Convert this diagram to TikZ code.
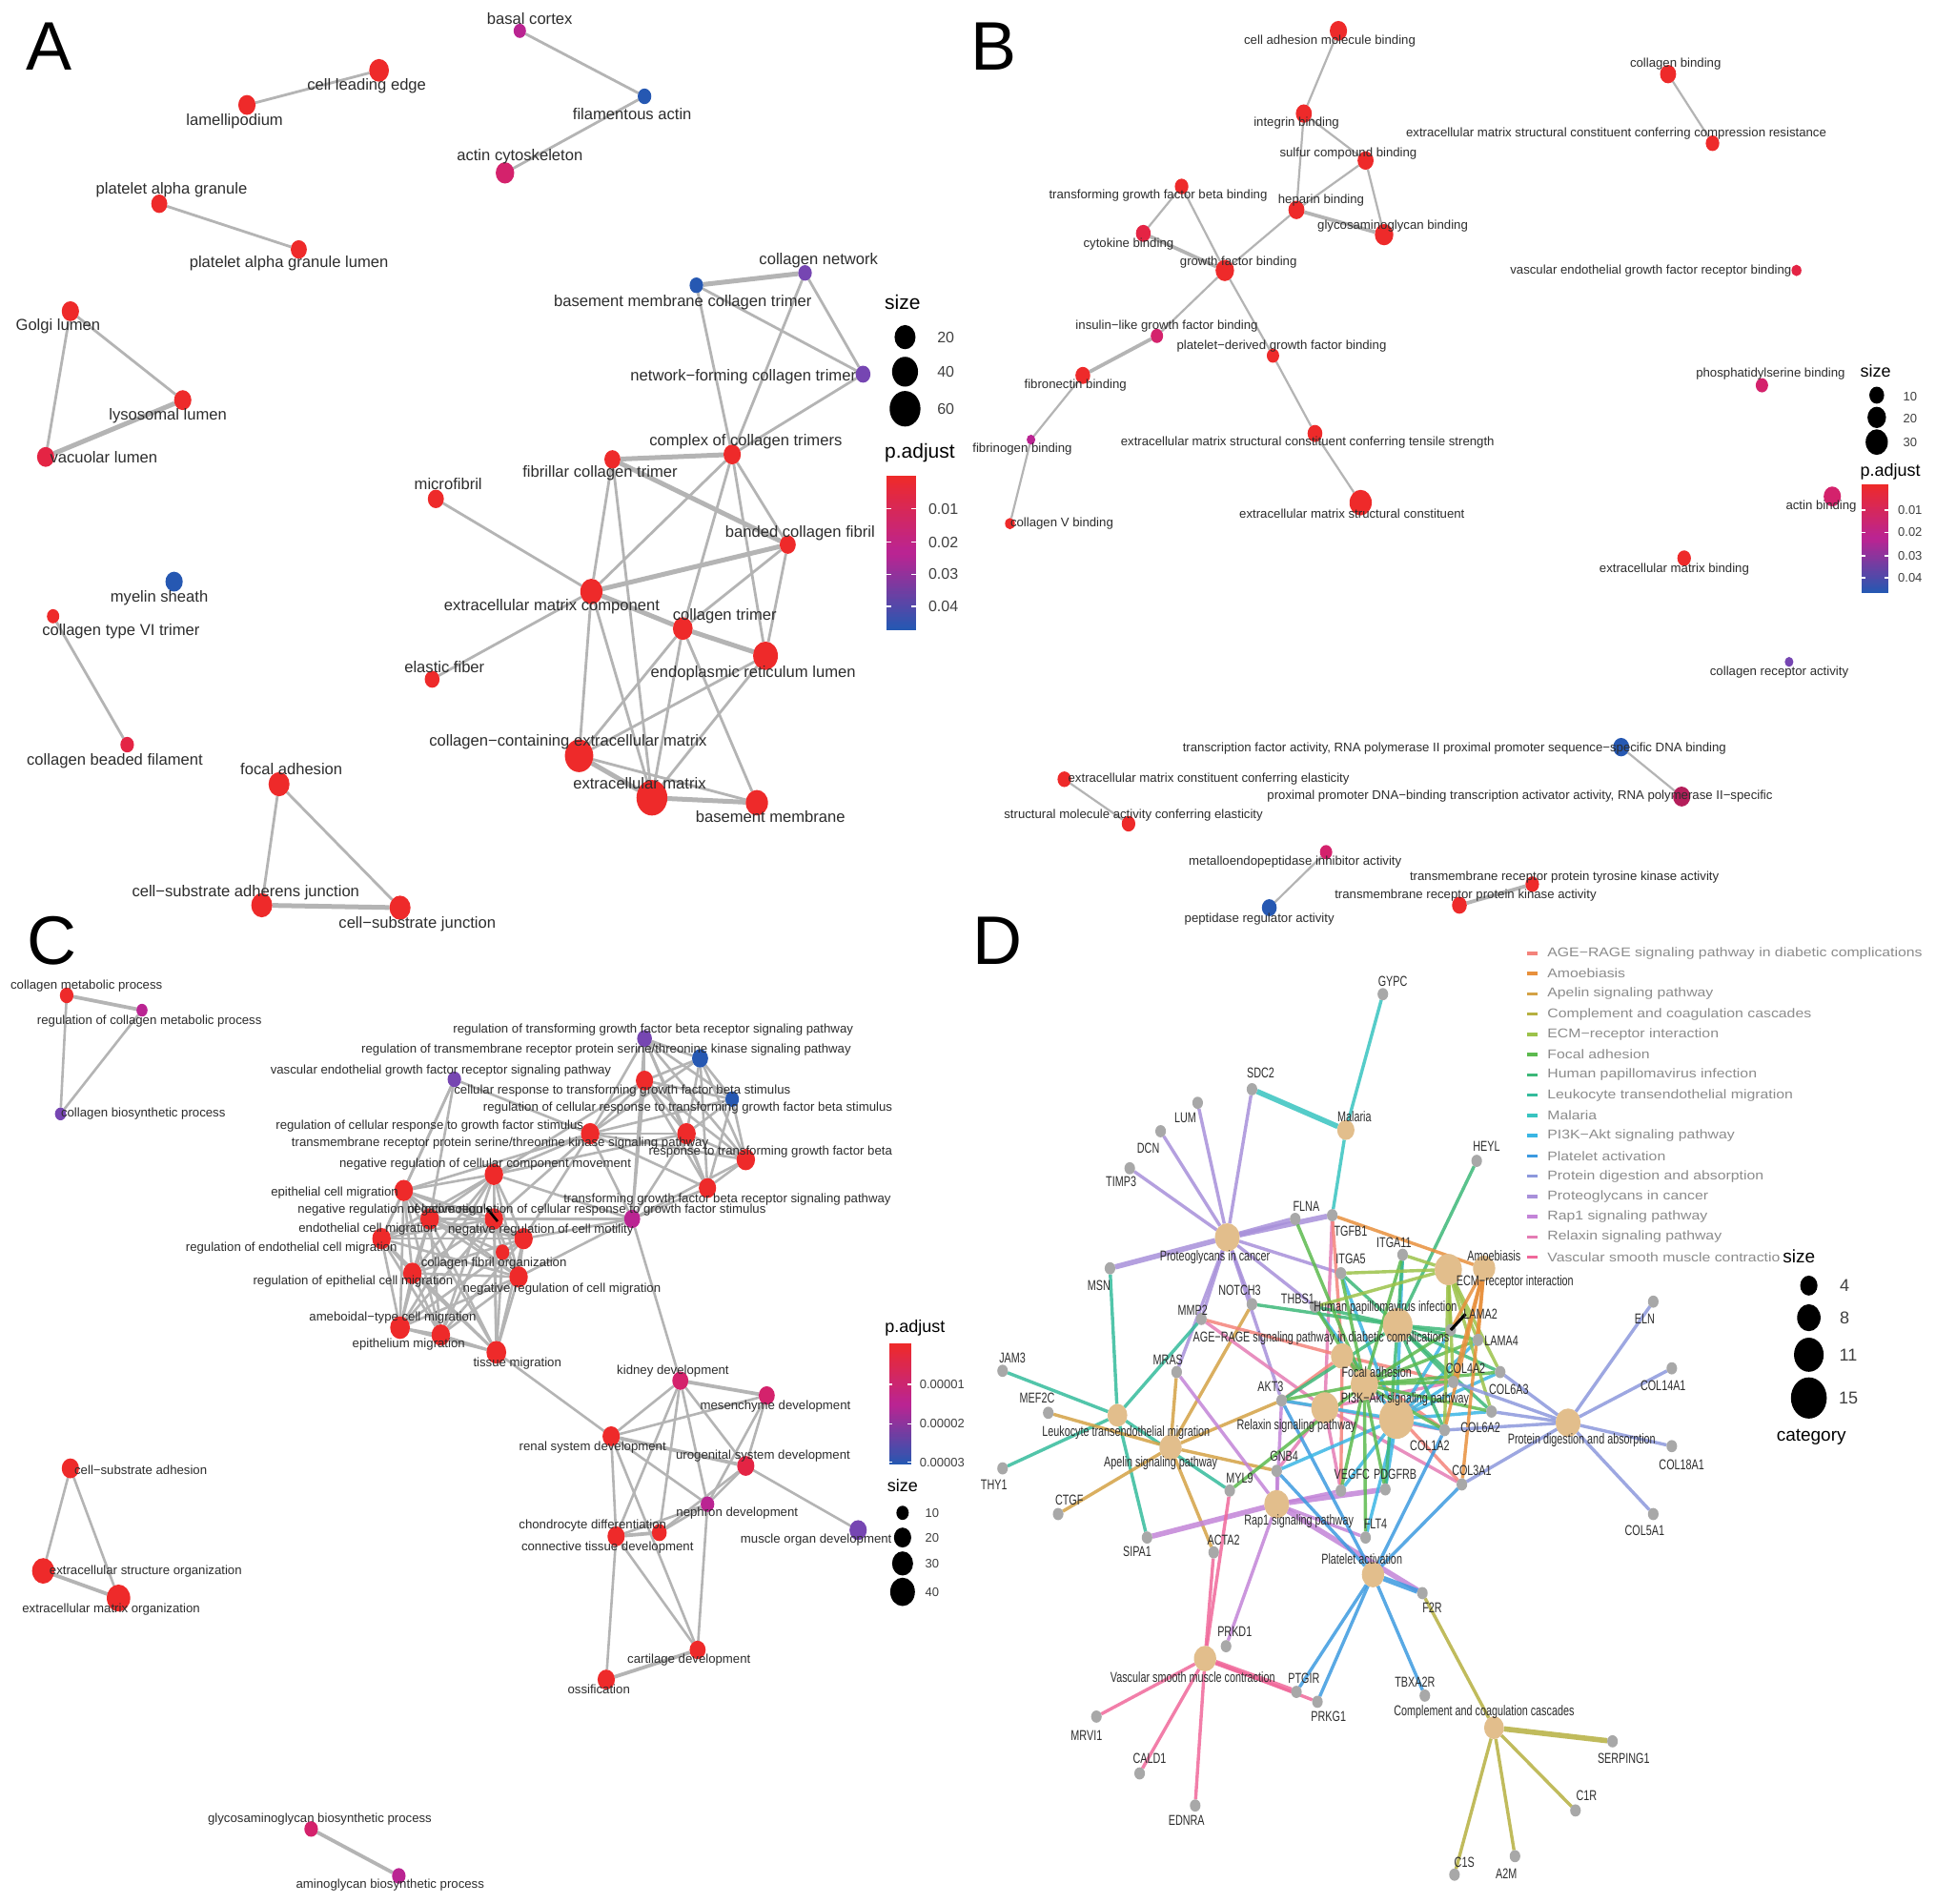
\documentclass[tikz,border=0pt]{standalone}
\usepackage{fontspec}
\setmainfont{Liberation Sans}
\usepackage{graphicx}
\usetikzlibrary{shapes.geometric}
\pgfdeclarelayer{back}
\pgfdeclarelayer{bg}
\pgfdeclarelayer{fg}
\pgfsetlayers{back,bg,main,fg}
\definecolor{cR}{RGB}{238,42,42}
\definecolor{cR2}{RGB}{228,36,68}
\definecolor{cM1}{RGB}{212,34,108}
\definecolor{cM}{RGB}{186,36,146}
\definecolor{cM2}{RGB}{180,30,90}
\definecolor{cP}{RGB}{118,70,178}
\definecolor{cB}{RGB}{38,88,178}
\definecolor{egray}{RGB}{180,180,180}
\definecolor{txt}{RGB}{45,45,45}
\definecolor{ctan}{RGB}{226,190,140}
\definecolor{ggray}{RGB}{168,168,168}
\definecolor{legtxt}{RGB}{140,140,140}
\definecolor{k1}{HTML}{F4837B}
\definecolor{k2}{HTML}{E8903C}
\definecolor{k3}{HTML}{D4A245}
\definecolor{k4}{HTML}{B6B040}
\definecolor{k5}{HTML}{9CC24A}
\definecolor{k6}{HTML}{5CBA4E}
\definecolor{k7}{HTML}{3CB878}
\definecolor{k8}{HTML}{34BC9C}
\definecolor{k9}{HTML}{38C4C0}
\definecolor{k10}{HTML}{3AB6E4}
\definecolor{k11}{HTML}{3C9AE0}
\definecolor{k12}{HTML}{8C98DC}
\definecolor{k13}{HTML}{A890DA}
\definecolor{k14}{HTML}{C384D8}
\definecolor{k15}{HTML}{E47CB4}
\definecolor{k16}{HTML}{F0689A}
\tikzset{
 gnode/.style={ellipse,inner sep=0pt,outer sep=0pt,draw=none},
 ea/.style={draw=egray,line width=1.4pt},
 eat/.style={draw=egray,line width=2.5pt},
 eb/.style={draw=egray,line width=1.1pt},
 ebt/.style={draw=egray,line width=1.9pt},
 ec/.style={draw=egray,line width=1.3pt},
 de/.style={line width=1.7pt,opacity=0.85},
 det/.style={line width=2.8pt,opacity=0.85},
 labA/.style={font=\fontsize{8.3}{10}\selectfont,text=txt,inner sep=0pt},
 labB/.style={font=\fontsize{6.6}{8}\selectfont,text=txt,inner sep=0pt},
 labD/.style={font=\fontsize{7.5}{9}\selectfont,text=txt,inner sep=0pt},
 letter/.style={font=\fontsize{36}{40}\selectfont,text=black,inner sep=0pt},
 legtitle/.style={font=\fontsize{10.5}{12}\selectfont,text=black,inner sep=0pt},
 legnum/.style={font=\fontsize{8}{10}\selectfont,text=black!75,inner sep=0pt},
 legtitleB/.style={font=\fontsize{9}{11}\selectfont,text=black,inner sep=0pt},
 legnumB/.style={font=\fontsize{6.5}{8}\selectfont,text=black!75,inner sep=0pt},
 legD/.style={font=\fontsize{6.7}{8}\selectfont,text=legtxt,inner sep=0pt,anchor=west},
}
\newcommand\nd[5]{\node[gnode,fill=#5,minimum width={#4*1.2954pt},minimum height={#4*1.49pt}] (#1) at (#2,#3) {};}
\newcommand\la[4]{\begin{pgfonlayer}{fg}\node[labA] (l#1) at (#2,#3) {#4};\end{pgfonlayer}}
\newcommand\lb[4]{\begin{pgfonlayer}{fg}\node[labB] (l#1) at (#2,#3) {#4};\end{pgfonlayer}}
\newcommand\ld[4]{\begin{pgfonlayer}{fg}\node[labD] (l#1) at (#2,#3) {\scalebox{0.72}[1]{#4}};\end{pgfonlayer}}
\newcommand\gene[5]{\nd{#1}{#2}{#3}{4.3}{ggray}\ld{#1}{#4}{#5}{#1}}
\newcommand\cbar[4]{%
 \foreach \i in {0,...,29}{%
  \pgfmathsetmacro\ya{#2+(#4-#2)*\i/60}%
  \pgfmathsetmacro\yb{#2+(#4-#2)*(\i+1.3)/60}%
  \pgfmathtruncatemacro\pp{\i*100/29}%
  \fill[cM!\pp!cR] (#1,\ya) rectangle (#3,\yb);}%
 \foreach \i in {0,...,29}{%
  \pgfmathsetmacro\ya{#2+(#4-#2)*(30+\i)/60}%
  \pgfmathsetmacro\yb{#2+(#4-#2)*min(60,30+\i+1.3)/60}%
  \pgfmathtruncatemacro\pp{\i*100/29}%
  \fill[cB!\pp!cM] (#1,\ya) rectangle (#3,\yb);}%
}
\begin{document}
\begin{tikzpicture}[x=0.6477pt,y=-0.6477pt]
\useasboundingbox (0,0) rectangle (1568,1541);
\begin{pgfonlayer}{back}
\fill[white] (0,0) rectangle (1568,1541);
\end{pgfonlayer}
% ---------------- letters
\node[letter] (LA) at (40,38) {A};
\node[letter] (LB) at (805,38) {B};
\node[letter] (LC) at (42,762) {C};
\node[letter] (LD) at (808,762) {D};
% ================= PANEL A
\nd{bc}{421}{25}{5}{cM}
\nd{fa}{522}{78}{5.5}{cB}
\nd{ac}{409}{140}{7.5}{cM1}
\nd{cle}{307}{57}{8}{cR}
\nd{lam}{200}{85}{7}{cR}
\nd{pag}{129}{165}{6.5}{cR}
\nd{pagl}{242}{202}{6.5}{cR}
\nd{gl}{57}{252}{7}{cR}
\nd{ll}{148}{324}{7}{cR}
\nd{vl}{37}{370}{7}{cR2}
\nd{ms}{141}{471}{7}{cB}
\nd{cvi}{43}{499}{5}{cR}
\nd{cbf}{103}{603}{5.5}{cR2}
\nd{fad}{226}{635}{8.5}{cR}
\nd{csaj}{212}{733}{8.5}{cR}
\nd{csj}{324}{735}{8.5}{cR}
\nd{cn}{652}{221}{5.5}{cP}
\nd{bmct}{564}{231}{5.5}{cB}
\nd{nfct}{699}{303}{6}{cP}
\nd{cct}{593}{368}{7}{cR}
\nd{fct}{496}{372}{6.5}{cR}
\nd{mf}{353}{404}{6.5}{cR}
\nd{bcf}{638}{441}{6.5}{cR}
\nd{ecmc}{479}{479}{9}{cR}
\nd{ctr}{553}{509}{8}{cR}
\nd{erl}{620}{531}{10}{cR}
\nd{ef}{350}{550}{6}{cR}
\nd{ccecm}{469}{612}{11.5}{cR}
\nd{exm}{528}{646}{12.5}{cR}
\nd{bm}{613}{650}{9}{cR}
\la{bc}{429}{15}{basal cortex}
\la{fa}{512}{92}{filamentous actin}
\la{ac}{421}{127}{actin cytoskeleton}
\la{cle}{297}{70}{cell leading edge}
\la{lam}{190}{98}{lamellipodium}
\la{pag}{139}{154}{platelet alpha granule}
\la{pagl}{234}{213}{platelet alpha granule lumen}
\la{gl}{47}{264}{Golgi lumen}
\la{ll}{136}{337}{lysosomal lumen}
\la{vl}{84}{370}{vacuolar lumen}
\la{ms}{129}{484}{myelin sheath}
\la{cvi}{98}{511}{collagen type VI trimer}
\la{cbf}{93}{616}{collagen beaded filament}
\la{fad}{236}{623}{focal adhesion}
\la{csaj}{199}{723}{cell−substrate adherens junction}
\la{csj}{338}{748}{cell−substrate junction}
\la{cn}{663}{211}{collagen network}
\la{bmct}{553}{245}{basement membrane collagen trimer}
\la{nfct}{602}{305}{network−forming collagen trimer}
\la{cct}{604}{358}{complex of collagen trimers}
\la{fct}{486}{383}{fibrillar collagen trimer}
\la{mf}{363}{392}{microfibril}
\la{bcf}{648}{432}{banded collagen fibril}
\la{ecmc}{447}{491}{extracellular matrix component}
\la{ctr}{587}{499}{collagen trimer}
\la{erl}{610}{545}{endoplasmic reticulum lumen}
\la{ef}{360}{540}{elastic fiber}
\la{ccecm}{460}{601}{collagen−containing extracellular matrix}
\la{exm}{518}{634}{extracellular matrix}
\la{bm}{624}{661}{basement membrane}
\begin{pgfonlayer}{bg}
\foreach \a/\b in {bc/fa,fa/ac,cle/lam,pag/pagl,gl/ll,gl/vl,cvi/cbf,fad/csaj,fad/csj,bmct/nfct,cn/nfct,bmct/cct,cn/cct,nfct/cct,cct/ecmc,cct/ctr,cct/bcf,cct/erl,fct/ecmc,fct/exm,mf/ecmc,ef/ecmc,ecmc/ccecm,ecmc/exm,bcf/ctr,bcf/erl,ctr/ccecm,ctr/exm,ctr/bm,erl/ccecm,erl/exm,ccecm/bm}
 \draw[ea] (\a) -- (\b);
\foreach \a/\b in {ll/vl,csaj/csj,bmct/cn,cct/fct,fct/bcf,ecmc/bcf,ecmc/ctr,ctr/erl,ccecm/exm,exm/bm}
 \draw[eat] (\a) -- (\b);
\end{pgfonlayer}
% legend A
\node[legtitle] (sA) at (731,245) {size};
\nd{sA1}{733}{273}{8.5}{black}
\nd{sA2}{733}{301}{10.5}{black}
\nd{sA3}{733}{331}{12.5}{black}
\node[legnum] (sA1t) at (766,273) {20};
\node[legnum] (sA2t) at (766,301) {40};
\node[legnum] (sA3t) at (766,331) {60};
\node[legtitle] (pA) at (745,367) {p.adjust};
\cbar{718}{385}{742}{510}
\foreach \y/\t in {412/0.01,439/0.02,465/0.03,491/0.04}{
 \draw[white,line width=0.8pt] (718,\y) -- (722,\y);
 \draw[white,line width=0.8pt] (738,\y) -- (742,\y);
 \node[legnum] at (764,\y) {\t};}
% ================= PANEL B
\nd{camb}{1084}{25}{7}{cR}
\nd{ib}{1056}{92}{6.5}{cR}
\nd{scb}{1106}{130}{6.5}{cR}
\nd{tgfbb}{957}{151}{5.5}{cR}
\nd{hb}{1050}{170}{6.5}{cR}
\nd{gagb}{1121}{190}{7.5}{cR}
\nd{cyb}{926}{189}{6}{cR2}
\nd{gfb}{992}{219}{7.5}{cR}
\nd{igfb}{937}{272}{5}{cM1}
\nd{pdgfb}{1031}{288}{5}{cR}
\nd{fnb}{877}{304}{6}{cR}
\nd{fgb}{835}{356}{3.5}{cM}
\nd{cvb}{818}{424}{4}{cR}
\nd{tens}{1065}{351}{6}{cR}
\nd{ecmsc}{1102}{407}{9}{cR}
\nd{colb}{1351}{60}{6.5}{cR}
\nd{comp}{1387}{116}{5.5}{cR}
\nd{vegfrb}{1455}{219}{4}{cR2}
\nd{psb}{1427}{312}{5}{cM1}
\nd{actb}{1484}{402}{7}{cM1}
\nd{ecmb}{1364}{452}{5.5}{cR}
\nd{cra}{1449}{536}{3.5}{cP}
\nd{tfa}{1313}{605}{6.5}{cB}
\nd{ppa}{1362}{645}{7}{cM2}
\nd{ecmel}{862}{631}{5.5}{cR}
\nd{smael}{914}{667}{5.5}{cR}
\nd{mia}{1074}{690}{5}{cM1}
\nd{pra}{1028}{735}{6}{cB}
\nd{trptk}{1241}{716}{5.5}{cR}
\nd{trpk}{1182}{733}{6}{cR}
\lb{camb}{1077}{33}{cell adhesion molecule binding}
\lb{ib}{1050}{100}{integrin binding}
\lb{scb}{1092}{124}{sulfur compound binding}
\lb{tgfbb}{938}{158}{transforming growth factor beta binding}
\lb{hb}{1070}{162}{heparin binding}
\lb{gagb}{1128}{183}{glycosaminoglycan binding}
\lb{cyb}{914}{198}{cytokine binding}
\lb{gfb}{1003}{212}{growth factor binding}
\lb{igfb}{945}{264}{insulin−like growth factor binding}
\lb{pdgfb}{1038}{280}{platelet−derived growth factor binding}
\lb{fnb}{871}{312}{fibronectin binding}
\lb{fgb}{828}{364}{fibrinogen binding}
\lb{cvb}{860}{424}{collagen V binding}
\lb{tens}{1059}{358}{extracellular matrix structural constituent conferring tensile strength}
\lb{ecmsc}{1095}{416}{extracellular matrix structural constituent}
\lb{colb}{1357}{52}{collagen binding}
\lb{comp}{1309}{108}{extracellular matrix structural constituent conferring compression resistance}
\lb{vegfrb}{1337}{219}{vascular endothelial growth factor receptor binding}
\lb{psb}{1434}{303}{phosphatidylserine binding}
\lb{actb}{1475}{410}{actin binding}
\lb{ecmb}{1356}{461}{extracellular matrix binding}
\lb{cra}{1441}{544}{collagen receptor activity}
\lb{tfa}{1178}{606}{transcription factor activity, RNA polymerase II proximal promoter sequence−specific DNA binding}
\lb{ppa}{1231}{645}{proximal promoter DNA−binding transcription activator activity, RNA polymerase II−specific}
\lb{ecmel}{979}{631}{extracellular matrix constituent conferring elasticity}
\lb{smael}{918}{660}{structural molecule activity conferring elasticity}
\lb{mia}{1049}{698}{metalloendopeptidase inhibitor activity}
\lb{pra}{1020}{744}{peptidase regulator activity}
\lb{trptk}{1267}{710}{transmembrane receptor protein tyrosine kinase activity}
\lb{trpk}{1187}{725}{transmembrane receptor protein kinase activity}
\begin{pgfonlayer}{bg}
\foreach \a/\b in {camb/ib,ib/scb,ib/hb,scb/hb,scb/gagb,hb/gfb,tgfbb/cyb,tgfbb/gfb,gfb/igfb,gfb/pdgfb,fnb/fgb,fgb/cvb,pdgfb/tens,tens/ecmsc,colb/comp,tfa/ppa,ecmel/smael,mia/pra}
 \draw[eb] (\a) -- (\b);
\foreach \a/\b in {hb/gagb,cyb/gfb,igfb/fnb,trptk/trpk}
 \draw[ebt] (\a) -- (\b);
\end{pgfonlayer}
% legend B
\node[legtitleB] (sB) at (1519,300) {size};
\nd{sB1}{1520}{320}{6}{black}
\nd{sB2}{1520}{338}{7.5}{black}
\nd{sB3}{1520}{358}{9}{black}
\node[legnumB] (sB1t) at (1547,321) {10};
\node[legnumB] (sB2t) at (1547,339) {20};
\node[legnumB] (sB3t) at (1547,358) {30};
\node[legtitleB] (pB) at (1531,382) {p.adjust};
\cbar{1508}{392}{1529}{480}
\foreach \y/\t in {413/0.01,431/0.02,450/0.03,468/0.04}{
 \draw[white,line width=0.7pt] (1508,\y) -- (1511,\y);
 \draw[white,line width=0.7pt] (1526,\y) -- (1529,\y);
 \node[legnumB] at (1547,\y) {\t};}
% ================= PANEL C
\nd{cmp}{54}{806}{5.5}{cR}
\nd{rcmp}{115}{818}{4.5}{cM}
\nd{cbp}{49}{902}{4.5}{cP}
\nd{csa}{57}{1189}{7}{cR}
\nd{eso}{35}{1272}{9}{cR}
\nd{emo}{96}{1294}{9.5}{cR}
\nd{gbp}{252}{1481}{5.5}{cM1}
\nd{abp}{323}{1519}{5.5}{cM}
\nd{rtgf}{522}{841}{6}{cP}
\nd{rtm}{567}{857}{6.5}{cB}
\nd{vegf}{368}{874}{5.5}{cP}
\nd{crt}{522}{875}{7}{cR}
\nd{rcrt}{593}{890}{5.5}{cB}
\nd{rcrg}{478}{918}{7.5}{cR}
\nd{tmk}{556}{918}{7.5}{cR}
\nd{rtb}{604}{939}{7.5}{cR}
\nd{tgfr}{573}{962}{7}{cR}
\nd{nrccm}{400}{951}{7.5}{cR}
\nd{epcm}{327}{964}{7.5}{cR}
\nd{nrloc}{400}{987}{7.5}{cR}
\nd{nrcrg}{512}{987}{6.5}{cM}
\nd{ecmig}{348}{987}{7.5}{cR}
\nd{recm}{309}{1003}{7.5}{cR}
\nd{nrcm}{424}{1003}{7.5}{cR}
\nd{cfo}{407}{1014}{5.5}{cR}
\nd{repm}{334}{1031}{7.5}{cR}
\nd{nrcmig}{420}{1034}{7.5}{cR}
\nd{amb}{324}{1075}{8}{cR}
\nd{epm}{357}{1081}{7.5}{cR}
\nd{tism}{402}{1095}{8}{cR}
\nd{kid}{551}{1118}{6.5}{cM1}
\nd{mes}{621}{1130}{6.5}{cM1}
\nd{ren}{495}{1163}{7}{cR}
\nd{uro}{604}{1187}{7}{cR2}
\nd{nep}{573}{1218}{5.5}{cM}
\nd{cho}{534}{1241}{6}{cR}
\nd{con}{499}{1244}{7}{cR}
\nd{mus}{695}{1239}{7}{cP}
\nd{car}{565}{1336}{6.5}{cR}
\nd{oss}{491}{1360}{7}{cR}
\lb{cmp}{70}{798}{collagen metabolic process}
\lb{rcmp}{121}{827}{regulation of collagen metabolic process}
\lb{cbp}{116}{902}{collagen biosynthetic process}
\lb{csa}{114}{1190}{cell−substrate adhesion}
\lb{eso}{118}{1272}{extracellular structure organization}
\lb{emo}{90}{1303}{extracellular matrix organization}
\lb{gbp}{259}{1473}{glycosaminoglycan biosynthetic process}
\lb{abp}{316}{1526}{aminoglycan biosynthetic process}
\lb{rtgf}{529}{834}{regulation of transforming growth factor beta receptor signaling pathway}
\lb{rtm}{491}{850}{regulation of transmembrane receptor protein serine/threonine kinase signaling pathway}
\lb{vegf}{357}{867}{vascular endothelial growth factor receptor signaling pathway}
\lb{crt}{504}{883}{cellular response to transforming growth factor beta stimulus}
\lb{rcrt}{557}{897}{regulation of cellular response to transforming growth factor beta stimulus}
\lb{rcrg}{348}{912}{regulation of cellular response to growth factor stimulus}
\lb{tmk}{405}{926}{transmembrane receptor protein serine/threonine kinase signaling pathway}
\lb{rtb}{624}{933}{response to transforming growth factor beta}
\lb{nrccm}{393}{943}{negative regulation of cellular component movement}
\lb{tgfr}{589}{971}{transforming growth factor beta receptor signaling pathway}
\lb{epcm}{271}{966}{epithelial cell migration}
\lb{nrloc}{316}{980}{negative regulation of locomotion}
\lb{nrcrg}{475}{980}{negative regulation of cellular response to growth factor stimulus}
\lb{ecmig}{298}{995}{endothelial cell migration}
\lb{nrcm}{438}{996}{negative regulation of cell motility}
\lb{recm}{236}{1011}{regulation of endothelial cell migration}
\lb{cfo}{400}{1023}{collagen fibril organization}
\lb{repm}{286}{1038}{regulation of epithelial cell migration}
\lb{nrcmig}{455}{1044}{negative regulation of cell migration}
\lb{amb}{318}{1067}{ameboidal−type cell migration}
\lb{epm}{331}{1089}{epithelium migration}
\lb{tism}{419}{1104}{tissue migration}
\lb{kid}{545}{1110}{kidney development}
\lb{mes}{628}{1139}{mesenchyme development}
\lb{ren}{480}{1172}{renal system development}
\lb{uro}{618}{1179}{urogenital system development}
\lb{nep}{597}{1225}{nephron development}
\lb{cho}{480}{1235}{chondrocyte differentiation}
\lb{con}{492}{1253}{connective tissue development}
\lb{mus}{661}{1247}{muscle organ development}
\lb{car}{558}{1344}{cartilage development}
\lb{oss}{485}{1368}{ossification}
\begin{pgfonlayer}{bg}
\foreach \a/\b in {cmp/cbp,rcmp/cbp,csa/eso,csa/emo}
 \draw[ec] (\a) -- (\b);
\foreach \a/\b in {cmp/rcmp,eso/emo,gbp/abp}
 \draw[ebt] (\a) -- (\b);
\foreach \a [count=\i] in {rtgf,rtm,crt,rcrt,rcrg,tmk,rtb,tgfr}{
 \foreach \b [count=\j] in {rtgf,rtm,crt,rcrt,rcrg,tmk,rtb,tgfr}{
  \ifnum\j>\i \draw[ec] (\a) -- (\b); \fi}}
\foreach \a [count=\i] in {nrccm,epcm,nrloc,ecmig,recm,nrcm,repm,nrcmig,amb,epm,tism}{
 \foreach \b [count=\j] in {nrccm,epcm,nrloc,ecmig,recm,nrcm,repm,nrcmig,amb,epm,tism}{
  \ifnum\j>\i \draw[ec] (\a) -- (\b); \fi}}
\foreach \a/\b in {vegf/rcrg,vegf/epcm,vegf/ecmig,vegf/recm,rcrg/nrccm,rcrg/nrcrg,rcrg/nrloc,rcrg/nrcm,rcrg/epcm,nrcrg/nrccm,nrcrg/nrloc,nrcrg/nrcm,nrcrg/nrcmig,nrcrg/tgfr,nrcrg/rtb,nrcrg/crt,nrcrg/tmk,nrcrg/rtgf,nrcrg/kid,tmk/nrccm,crt/nrccm,tism/ren,cfo/nrloc,cfo/nrcm,cfo/tism,cfo/ecmig,cfo/nrcmig,kid/ren,kid/uro,kid/nep,kid/cho,kid/con,ren/mes,ren/nep,ren/con,ren/car,mes/uro,mes/nep,uro/nep,uro/mus,uro/cho,nep/cho,nep/con,nep/car,con/oss,con/car}
 \draw[ec] (\a) -- (\b);
\foreach \a/\b in {kid/mes,ren/uro,cho/con,car/oss}
 \draw[ebt] (\a) -- (\b);
\end{pgfonlayer}
\coordinate (blkC1) at (394,978);
\coordinate (blkC2) at (403,989);
\draw[black,line width=1.3pt] (blkC1) -- (blkC2);
% legend C
\node[legtitleB] (pC) at (741,1075) {p.adjust};
\cbar{720}{1088}{738}{1186}
\foreach \y/\t in {1121/0.00001,1153/0.00002,1184/0.00003}{
 \draw[white,line width=0.7pt] (720,\y) -- (723,\y);
 \draw[white,line width=0.7pt] (735,\y) -- (738,\y);
 \node[legnumB] at (763,\y) {\t};}
\node[legtitleB] (sC) at (731,1203) {size};
\nd{sC1}{731}{1225}{5}{black}
\nd{sC2}{731}{1245}{7}{black}
\nd{sC3}{731}{1266}{8.5}{black}
\nd{sC4}{731}{1289}{10}{black}
\node[legnumB] (sC1t) at (755,1225) {10};
\node[legnumB] (sC2t) at (755,1245) {20};
\node[legnumB] (sC3t) at (755,1266) {30};
\node[legnumB] (sC4t) at (755,1289) {40};
% ================= PANEL D
\nd{mal}{1090}{915}{7}{ctan}
\nd{pro}{994}{1002}{10}{ctan}
\nd{amo}{1202}{1027}{9}{ctan}
\nd{ecr}{1173}{1028}{11}{ctan}
\nd{hpv}{1132}{1073}{12}{ctan}
\nd{age}{1087}{1098}{9}{ctan}
\nd{foc}{1105}{1121}{11}{ctan}
\nd{pi3}{1131}{1149}{14}{ctan}
\nd{rel}{1073}{1140}{11}{ctan}
\nd{ape}{948}{1172}{9}{ctan}
\nd{leu}{905}{1146}{8}{ctan}
\nd{rap}{1034}{1218}{10}{ctan}
\nd{pla}{1112}{1275}{9}{ctan}
\nd{pda}{1270}{1152}{10}{ctan}
\nd{vsm}{976}{1343}{9}{ctan}
\nd{cmc}{1210}{1399}{8}{ctan}
\ld{mal}{1097}{904}{Malaria}
\ld{pro}{984}{1018}{Proteoglycans in cancer}
\ld{amo}{1210}{1017}{Amoebiasis}
\ld{ecr}{1227}{1038}{ECM−receptor interaction}
\ld{hpv}{1122}{1059}{Human papillomavirus infection}
\ld{age}{1070}{1084}{AGE−RAGE signaling pathway in diabetic complications}
\ld{foc}{1115}{1111}{Focal adhesion}
\ld{pi3}{1138}{1133}{PI3K−Akt signaling pathway}
\ld{rel}{1050}{1155}{Relaxin signaling pathway}
\ld{leu}{912}{1160}{Leukocyte transendothelial migration}
\ld{ape}{940}{1185}{Apelin signaling pathway}
\ld{rap}{1052}{1232}{Rap1 signaling pathway}
\ld{pla}{1103}{1262}{Platelet activation}
\ld{pda}{1281}{1166}{Protein digestion and absorption}
\ld{vsm}{966}{1358}{Vascular smooth muscle contraction}
\ld{cmc}{1202}{1386}{Complement and coagulation cascades}
\gene{GYPC}{1120}{805}{1128}{795}
\gene{SDC2}{1014}{882}{1021}{869}
\gene{LUM}{970}{893}{960}{905}
\gene{DCN}{940}{916}{930}{930}
\gene{TIMP3}{915}{946}{908}{957}
\gene{FLNA}{1049}{987}{1058}{977}
\gene{TGFB1}{1079}{984}{1094}{997}
\gene{ITGA11}{1136}{1016}{1129}{1006}
\gene{ITGA5}{1086}{1031}{1094}{1019}
\gene{MSN}{899}{1027}{890}{1041}
\gene{NOTCH3}{1014}{1056}{1004}{1045}
\gene{THBS1}{1065}{1058}{1051}{1052}
\gene{MMP2}{973}{1068}{966}{1061}
\gene{LAMA2}{1175}{1077}{1199}{1064}
\gene{LAMA4}{1197}{1085}{1216}{1086}
\gene{MRAS}{953}{1111}{946}{1101}
\gene{JAM3}{812}{1110}{820}{1100}
\gene{AKT3}{1038}{1134}{1029}{1123}
\gene{COL4A2}{1177}{1119}{1187}{1108}
\gene{COL6A3}{1215}{1111}{1222}{1125}
\gene{MEF2C}{849}{1144}{840}{1132}
\gene{COL6A2}{1208}{1143}{1199}{1156}
\gene{COL1A2}{1170}{1158}{1158}{1171}
\gene{GNB4}{1034}{1191}{1040}{1179}
\gene{VEGFC}{1086}{1207}{1095}{1194}
\gene{PDGFRB}{1122}{1206}{1130}{1194}
\gene{COL3A1}{1184}{1202}{1192}{1191}
\gene{MYL9}{996}{1207}{1004}{1197}
\gene{THY1}{812}{1189}{805}{1202}
\gene{CTGF}{857}{1226}{866}{1215}
\gene{FLT4}{1106}{1245}{1114}{1234}
\gene{SIPA1}{929}{1245}{921}{1256}
\gene{ACTA2}{983}{1257}{991}{1247}
\gene{F2R}{1152}{1290}{1160}{1302}
\gene{PRKD1}{993}{1333}{1000}{1321}
\gene{PTGIR}{1050}{1370}{1056}{1359}
\gene{TBXA2R}{1154}{1373}{1146}{1362}
\gene{PRKG1}{1067}{1378}{1076}{1390}
\gene{MRVI1}{888}{1390}{880}{1405}
\gene{SERPING1}{1306}{1410}{1315}{1424}
\gene{CALD1}{923}{1436}{931}{1424}
\gene{C1R}{1276}{1466}{1285}{1454}
\gene{EDNRA}{968}{1462}{961}{1474}
\gene{A2M}{1227}{1503}{1220}{1517}
\gene{C1S}{1178}{1518}{1186}{1508}
\gene{HEYL}{1196}{940}{1204}{928}
\gene{ELN}{1339}{1054}{1332}{1068}
\gene{COL14A1}{1354}{1108}{1347}{1122}
\gene{COL18A1}{1354}{1171}{1362}{1186}
\gene{COL5A1}{1339}{1226}{1332}{1239}
\begin{pgfonlayer}{bg}
\foreach \a/\b in {mal/GYPC,mal/TGFB1} \draw[de,k9] (\a) -- (\b);
\draw[det,k9] (mal) -- (SDC2);
\foreach \a/\b in {pro/LUM,pro/DCN,pro/TIMP3,pro/SDC2,pro/MMP2,pro/NOTCH3,pro/THBS1,pro/ITGA5,pro/MRAS,pro/AKT3} \draw[de,k13] (\a) -- (\b);
\foreach \a/\b in {pro/FLNA,pro/TGFB1,pro/MSN} \draw[det,k13] (\a) -- (\b);
\foreach \a/\b in {leu/MSN,leu/JAM3,leu/THY1,leu/MMP2,leu/SIPA1,leu/MYL9} \draw[de,k8] (\a) -- (\b);
\foreach \a/\b in {ape/MEF2C,ape/CTGF,ape/ACTA2,ape/MRAS,ape/AKT3,ape/GNB4,ape/NOTCH3} \draw[de,k3] (\a) -- (\b);
\foreach \a/\b in {rap/VEGFC,rap/FLT4,rap/GNB4,rap/AKT3,rap/MRAS,rap/PRKD1} \draw[de,k14] (\a) -- (\b);
\foreach \a/\b in {rap/SIPA1,rap/F2R,rap/PDGFRB} \draw[det,k14] (\a) -- (\b);
\foreach \a/\b in {rel/TGFB1,rel/MMP2,rel/AKT3,rel/GNB4,rel/VEGFC,rel/COL4A2,rel/COL1A2,rel/COL3A1} \draw[de,k15] (\a) -- (\b);
\foreach \a/\b in {age/MMP2,age/TGFB1,age/AKT3,age/COL4A2,age/COL1A2,age/COL3A1,age/VEGFC} \draw[de,k1] (\a) -- (\b);
\foreach \a/\b in {pla/TBXA2R,pla/PTGIR,pla/PRKG1,pla/AKT3,pla/GNB4,pla/COL1A2,pla/COL3A1} \draw[de,k11] (\a) -- (\b);
\draw[det,k11] (pla) -- (F2R);
\foreach \a/\b in {pi3/ITGA11,pi3/ITGA5,pi3/THBS1,pi3/LAMA2,pi3/LAMA4,pi3/COL4A2,pi3/COL6A3,pi3/COL6A2,pi3/COL1A2,pi3/AKT3,pi3/GNB4,pi3/VEGFC,pi3/PDGFRB,pi3/FLT4} \draw[de,k10] (\a) -- (\b);
\foreach \a/\b in {hpv/HEYL,hpv/NOTCH3,hpv/THBS1,hpv/ITGA11,hpv/ITGA5,hpv/LAMA2,hpv/LAMA4,hpv/COL4A2,hpv/COL6A3,hpv/COL6A2,hpv/COL1A2,hpv/AKT3,hpv/PDGFRB} \draw[de,k7] (\a) -- (\b);
\foreach \a/\b in {foc/FLNA,foc/ITGA11,foc/ITGA5,foc/THBS1,foc/LAMA2,foc/LAMA4,foc/COL4A2,foc/COL6A3,foc/COL6A2,foc/COL1A2,foc/AKT3,foc/VEGFC,foc/PDGFRB,foc/MYL9,foc/FLT4} \draw[de,k6] (\a) -- (\b);
\foreach \a/\b in {ecr/ITGA11,ecr/ITGA5,ecr/THBS1,ecr/LAMA2,ecr/LAMA4,ecr/COL4A2,ecr/COL6A3,ecr/COL6A2,ecr/COL1A2} \draw[de,k5] (\a) -- (\b);
\foreach \a/\b in {amo/TGFB1,amo/LAMA2,amo/LAMA4,amo/COL4A2,amo/COL1A2,amo/COL3A1} \draw[de,k2] (\a) -- (\b);
\foreach \a/\b in {pda/ELN,pda/COL14A1,pda/COL18A1,pda/COL5A1,pda/COL6A3,pda/COL6A2,pda/COL4A2,pda/COL1A2,pda/COL3A1} \draw[de,k12] (\a) -- (\b);
\foreach \a/\b in {vsm/MRVI1,vsm/CALD1,vsm/EDNRA,vsm/PRKG1,vsm/ACTA2,vsm/MYL9} \draw[de,k16] (\a) -- (\b);
\draw[det,k16] (vsm) -- (PTGIR);
\foreach \a/\b in {cmc/F2R,cmc/C1R,cmc/C1S,cmc/A2M} \draw[de,k4] (\a) -- (\b);
\draw[det,k4] (cmc) -- (SERPING1);
\end{pgfonlayer}
\coordinate (blkD) at (1187,1064);
\draw[black,line width=1.6pt] (LAMA2.center) -- (blkD);
% legend D
\foreach \t [count=\i] in {AGE−RAGE signaling pathway in diabetic complications,Amoebiasis,Apelin signaling pathway,Complement and coagulation cascades,ECM−receptor interaction,Focal adhesion,Human papillomavirus infection,Leukocyte transendothelial migration,Malaria,PI3K−Akt signaling pathway,Platelet activation,Protein digestion and absorption,Proteoglycans in cancer,Rap1 signaling pathway,Relaxin signaling pathway,Vascular smooth muscle contraction}{
 \draw[k\i,line width=1.8pt] (1237,{772+(\i-1)*16.4}) -- (1245,{772+(\i-1)*16.4});
 \node[legD] (lg\i) at (1253,{772+(\i-1)*16.4}) {\scalebox{1.18}[1]{\t}};}
\node[font=\fontsize{9.5}{11}\selectfont,fill=white,inner sep=1pt] (sD) at (1457,1017) {size};
\nd{sD1}{1465}{1041}{7}{black}
\nd{sD2}{1465}{1067}{9.5}{black}
\nd{sD3}{1465}{1097}{12}{black}
\nd{sD4}{1465}{1132}{14.5}{black}
\node[legnum,font=\fontsize{9}{10}\selectfont] (sD1t) at (1494,1041) {4};
\node[legnum,font=\fontsize{9}{10}\selectfont] (sD2t) at (1494,1067) {8};
\node[legnum,font=\fontsize{9}{10}\selectfont] (sD3t) at (1497,1097) {11};
\node[legnum,font=\fontsize{9}{10}\selectfont] (sD4t) at (1497,1132) {15};
\node[font=\fontsize{9.5}{11}\selectfont,inner sep=0pt] (catD) at (1467,1164) {category};
\end{tikzpicture}
\end{document}
